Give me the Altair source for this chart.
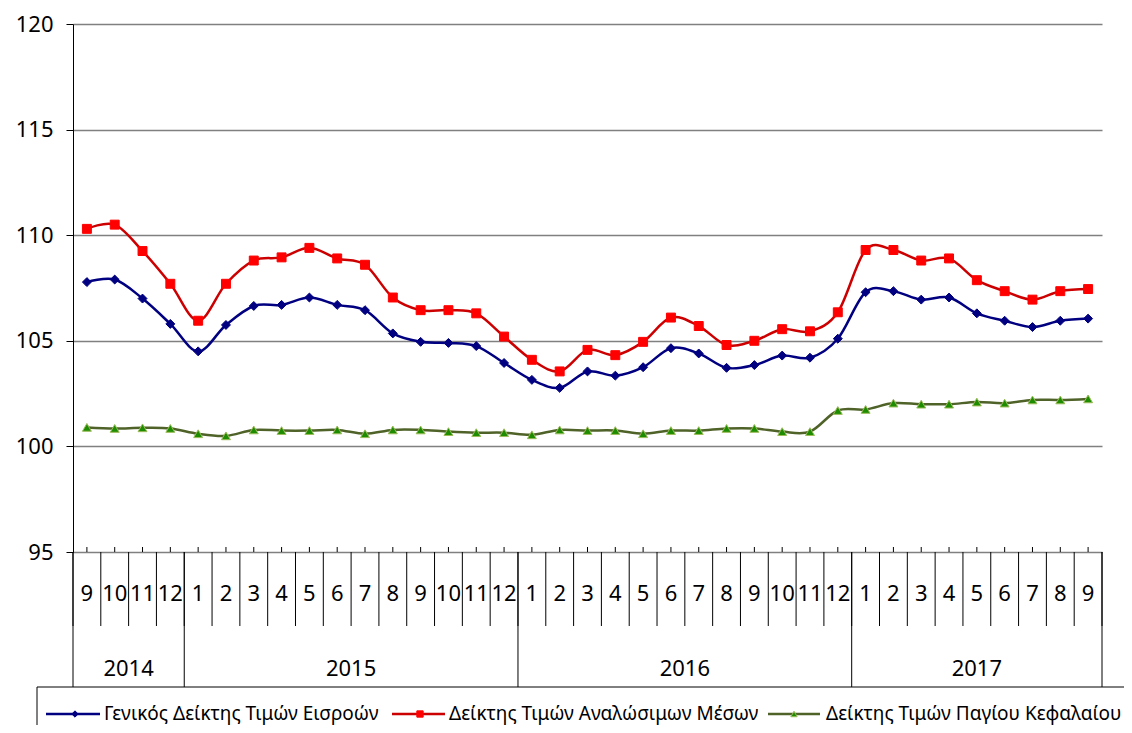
import altair as alt
import pandas as pd

# ---------------- data ----------------
months = ["9", "10", "11", "12",
          "1", "2", "3", "4", "5", "6", "7", "8", "9", "10", "11", "12",
          "1", "2", "3", "4", "5", "6", "7", "8", "9", "10", "11", "12",
          "1", "2", "3", "4", "5", "6", "7", "8", "9"]
years = ["2014"] * 4 + ["2015"] * 12 + ["2016"] * 12 + ["2017"] * 9

series_names = ["Γενικός Δείκτης Τιμών Εισροών",
                "Δείκτης Τιμών Αναλώσιμων Μέσων",
                "Δείκτης Τιμών Παγίου Κεφαλαίου"]

general = [107.78, 107.9, 107.0, 105.8, 104.5, 105.75, 106.65, 106.7, 107.05, 106.7,
           106.45, 105.35, 104.95, 104.9, 104.75, 103.95, 103.15, 102.77, 103.55, 103.35,
           103.75, 104.65, 104.4, 103.72, 103.85, 104.3, 104.2, 105.1, 107.3, 107.35,
           106.95, 107.05, 106.3, 105.95, 105.65, 105.95, 106.05]
consumables = [110.3, 110.5, 109.25, 107.7, 105.95, 107.7, 108.8, 108.95, 109.4, 108.9,
               108.6, 107.05, 106.45, 106.45, 106.3, 105.2, 104.1, 103.55, 104.57, 104.32,
               104.95, 106.1, 105.7, 104.8, 105.0, 105.55, 105.45, 106.35, 109.3, 109.3,
               108.8, 108.9, 107.87, 107.35, 106.95, 107.35, 107.45]
capital = [100.9, 100.85, 100.88, 100.85, 100.6, 100.5, 100.78, 100.75, 100.75, 100.78,
           100.6, 100.78, 100.78, 100.7, 100.65, 100.65, 100.55, 100.78, 100.75, 100.75,
           100.6, 100.75, 100.75, 100.85, 100.85, 100.7, 100.7, 101.7, 101.75, 102.05,
           102.0, 102.0, 102.1, 102.05, 102.2, 102.2, 102.25]

y_ticks = [95, 100, 105, 110, 115, 120]

line_colors = ["#000080", "#CC0000", "#4F6228"]
marker_fill = ["#000080", "#FF0000", "#1E8C00"]
marker_stroke = ["#000080", "#FF0000", "#9BBB59"]
marker_shapes = ["diamond", "square", "triangle-up"]

# ---------------- tables ----------------
n = len(months)
rows = []
for name, vals in zip(series_names, [general, consumables, capital]):
    for i, v in enumerate(vals):
        rows.append({"idx": i, "value": v, "series": name})
df = pd.DataFrame(rows)

cat_df = pd.DataFrame({"idx": list(range(n)), "month": months, "year": years})
bound_df = pd.DataFrame({"b": [i - 0.5 for i in range(n + 1)]})

year_order = []
for y in years:
    if y not in year_order:
        year_order.append(y)
year_rows = []
ybounds = []
for y in year_order:
    ids = [i for i, yy in enumerate(years) if yy == y]
    year_rows.append({"year": y, "c": (ids[0] + ids[-1]) / 2})
    ybounds.append(ids[0] - 0.5)
ybounds.append(n - 0.5)
year_df = pd.DataFrame(year_rows)
ybound_df = pd.DataFrame({"b": ybounds})

W, H = 1029, 528
FONT = "Noto Sans"

xscale = alt.Scale(domain=[-0.5, n - 0.5], nice=False, zero=False)
yscale = alt.Scale(domain=[95, 120], nice=False, zero=False)

yaxis = alt.Axis(values=y_ticks, grid=True, gridColor="#808080", gridWidth=1.5,
                 domainColor="#000000", domainWidth=1, tickColor="#000000", tickSize=7,
                 labelFontSize=22, labelFont=FONT, labelColor="#000000", labelPadding=13,
                 title=None)

base = alt.Chart(df)

lines = base.mark_line(interpolate="cardinal", strokeWidth=2.5).encode(
    x=alt.X("idx:Q", scale=xscale, axis=None),
    y=alt.Y("value:Q", scale=yscale, axis=yaxis),
    color=alt.Color("series:N", scale=alt.Scale(domain=series_names, range=line_colors), legend=None),
)

points = base.mark_point(filled=True, size=80, strokeWidth=1, opacity=1).encode(
    x=alt.X("idx:Q", scale=xscale),
    y=alt.Y("value:Q", scale=yscale),
    shape=alt.Shape("series:N", scale=alt.Scale(domain=series_names, range=marker_shapes), legend=None),
    fill=alt.Fill("series:N", scale=alt.Scale(domain=series_names, range=marker_fill), legend=None),
    stroke=alt.Stroke("series:N", scale=alt.Scale(domain=series_names, range=marker_stroke), legend=None),
)

# small ticks at category centres (pointing up into plot)
ticks = alt.Chart(cat_df).mark_rule(color="#000000", strokeWidth=1).encode(
    x=alt.X("idx:Q", scale=xscale),
    y=alt.value(H - 5), y2=alt.value(H),
)

# month separators
msep = alt.Chart(bound_df).mark_rule(color="#000000", strokeWidth=1).encode(
    x=alt.X("b:Q", scale=xscale),
    y=alt.value(H), y2=alt.value(H + 74),
)
# year separators
ysep = alt.Chart(ybound_df).mark_rule(color="#000000", strokeWidth=1).encode(
    x=alt.X("b:Q", scale=xscale),
    y=alt.value(H), y2=alt.value(H + 135),
)

month_text = alt.Chart(cat_df).mark_text(fontSize=22, font=FONT, color="#000000",
                                         baseline="middle", align="center").encode(
    x=alt.X("idx:Q", scale=xscale),
    y=alt.value(H + 42),
    text="month:N",
)

year_text = alt.Chart(year_df).mark_text(fontSize=22, font=FONT, color="#000000",
                                         baseline="middle", align="center").encode(
    x=alt.X("c:Q", scale=xscale),
    y=alt.value(H + 117),
    text="year:N",
)

# ---------------- custom legend ----------------
box_df = pd.DataFrame({"k": [0]})
legend_box = alt.Chart(box_df).mark_rect(fill="white", stroke="#000000", strokeWidth=1).encode(
    x=alt.value(-36), x2=alt.value(1057), y=alt.value(H + 135), y2=alt.value(H + 220),
)

leg_df = pd.DataFrame({
    "series": series_names,
    "x0": [-27, 319, 695],
    "x1": [27, 372, 747],
    "xm": [2, 347, 721],
    "xt": [31, 376, 753],
})
LY = H + 162
leg_lines = alt.Chart(leg_df).mark_rule(strokeWidth=2.5).encode(
    x=alt.X("x0:Q", scale=None), x2="x1:Q",
    y=alt.value(LY),
    color=alt.Color("series:N", scale=alt.Scale(domain=series_names, range=line_colors), legend=None),
)
leg_pts = alt.Chart(leg_df).mark_point(filled=True, size=40, strokeWidth=1, opacity=1).encode(
    x=alt.X("xm:Q", scale=None),
    y=alt.value(LY),
    shape=alt.Shape("series:N", scale=alt.Scale(domain=series_names, range=marker_shapes), legend=None),
    fill=alt.Fill("series:N", scale=alt.Scale(domain=series_names, range=marker_fill), legend=None),
    stroke=alt.Stroke("series:N", scale=alt.Scale(domain=series_names, range=marker_stroke), legend=None),
)
leg_text = alt.Chart(leg_df).mark_text(fontSize=19, font=FONT, color="#000000",
                                       align="left", baseline="middle").encode(
    x=alt.X("xt:Q", scale=None),
    y=alt.value(LY),
    text="series:N",
)

chart = alt.layer(
    lines, points, ticks, msep, ysep, month_text, year_text,
    legend_box, leg_lines, leg_pts, leg_text,
).resolve_scale(
    color="independent", shape="independent", fill="independent", stroke="independent"
).properties(
    width=W, height=H,
    autosize=alt.AutoSizeParams(type="none"),
    padding={"left": 65, "top": 16, "right": 22, "bottom": 173},
).configure_view(stroke=None)

chart.save("out.html", embed_options={"renderer": "svg", "actions": False})
